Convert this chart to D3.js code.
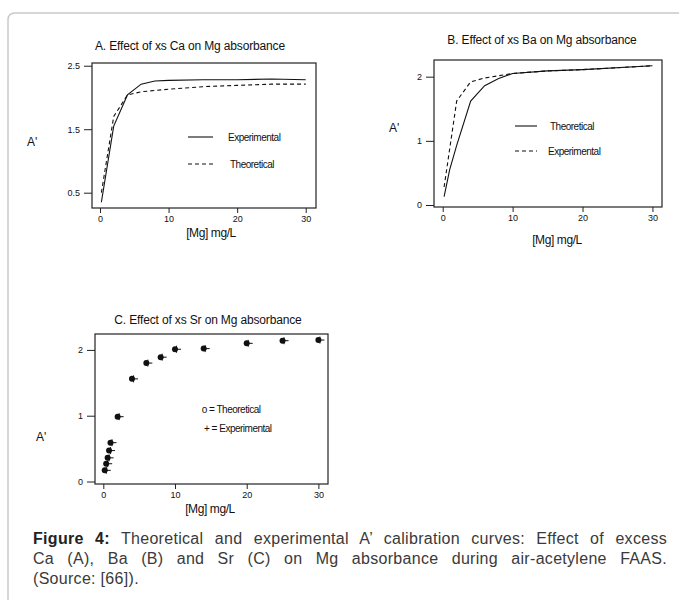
<!DOCTYPE html>
<html>
<head>
<meta charset="utf-8">
<script src="https://cdn.jsdelivr.net/npm/d3@7"></script>
<style>
body { margin: 0; background: #fff; }
#wrap { position: relative; width: 679px; height: 604px; overflow: hidden; }
svg { position: absolute; left: 0; top: 0; }
svg text { font-family: "Liberation Sans", Arial, sans-serif; fill: #111; }
.cap { position: absolute; left: 33px; width: 634px; font-family: "Liberation Sans", Arial, sans-serif;
  font-size: 16px; letter-spacing: 0.3px; line-height: 20px; color: #3a3a3a; white-space: nowrap; }
.cap.j { text-align: justify; text-align-last: justify; white-space: normal; }
.cap b { color: #222; }
</style>
</head>
<body>
<div id="wrap">
<svg width="679" height="604"></svg>
<div class="cap j" style="top:529px"><b>Figure 4:</b> Theoretical and experimental A’ calibration curves: Effect of excess</div>
<div class="cap j" style="top:549px">Ca (A), Ba (B) and Sr (C) on Mg absorbance during air-acetylene FAAS.</div>
<div class="cap" style="top:569px">(Source: [66]).</div>
</div>
<script>
// --- panel A : excess Ca
var caExpX = [0.2, 2, 4, 6, 8, 10, 15, 20, 25, 30];
var caExpY = [0.35, 1.55, 2.04, 2.21, 2.26, 2.27, 2.28, 2.28, 2.29, 2.28];
var caTheoX = [0.2, 2, 4, 6, 10, 15, 20, 25, 30];
var caTheoY = [0.5, 1.7, 2.04, 2.09, 2.13, 2.17, 2.19, 2.21, 2.21];
var caYTicks = [0.5, 1.5, 2.5];

// --- panel B : excess Ba
var baTheoX = [0.2, 1, 2, 4, 6, 8, 10, 15, 20, 30];
var baTheoY = [0.13, 0.55, 0.93, 1.62, 1.86, 1.97, 2.05, 2.09, 2.11, 2.17];
var baExpX = [0.2, 2, 4, 6, 10, 15, 20, 30];
var baExpY = [0.28, 1.62, 1.92, 1.98, 2.05, 2.09, 2.11, 2.17];
var baYTicks = [0, 1, 2];

// --- panel C : excess Sr
var srX = [0.2, 0.4, 0.6, 0.8, 1, 2, 4, 6, 8, 10, 14, 20, 25, 30];
var srTheoY = [0.17, 0.27, 0.36, 0.47, 0.59, 0.985, 1.56, 1.80, 1.89, 2.01, 2.02, 2.10, 2.14, 2.15];
var srExpY = [0.17, 0.27, 0.36, 0.47, 0.59, 0.985, 1.56, 1.80, 1.89, 2.01, 2.02, 2.10, 2.14, 2.15];
var srYTicks = [0, 1, 2];

var xTicks = [0, 10, 20, 30];

var svg = d3.select("svg");

// grey frame round the figure
svg.append("path")
  .attr("d", "M8,600 L8,20 Q8,13 15,13 L690,13")
  .attr("fill", "none")
  .attr("stroke", "#c9c9c9")
  .attr("stroke-width", 1.5);

function zip(xs, ys) { return xs.map(function(v, i) { return [v, ys[i]]; }); }

function panel(cfg) {
  var x = d3.scaleLinear().domain(cfg.xd).range([cfg.box[0], cfg.box[1]]);
  var y = d3.scaleLinear().domain(cfg.yd).range([cfg.box[3], cfg.box[2]]);
  var g = svg.append("g");

  g.append("rect")
    .attr("x", cfg.box[0]).attr("y", cfg.box[2])
    .attr("width", cfg.box[1] - cfg.box[0]).attr("height", cfg.box[3] - cfg.box[2])
    .attr("fill", "none").attr("stroke", "#222").attr("stroke-width", 1.2);

  var ya = g.append("g").attr("transform", "translate(" + cfg.box[0] + ",0)")
    .call(d3.axisLeft(y).tickValues(cfg.yTicks).tickSize(8).tickPadding(4)
      .tickFormat(cfg.yFmt));
  var xa = g.append("g").attr("transform", "translate(0," + cfg.box[3] + ")")
    .call(d3.axisBottom(x).tickValues(xTicks).tickSize(5).tickPadding(3));
  [ya, xa].forEach(function(a) {
    a.select(".domain").remove();
    a.selectAll("line").attr("stroke", "#222");
    a.selectAll("text").style("font-size", "9px").attr("fill", "#222");
  });

  g.append("text").attr("x", cfg.title[0]).attr("y", cfg.title[1])
    .attr("text-anchor", "middle").style("font-size", "12px").style("letter-spacing", "-0.15px")
    .text(cfg.titleText);
  g.append("text").attr("x", cfg.xlab[0]).attr("y", cfg.xlab[1])
    .attr("text-anchor", "middle").style("font-size", "12px").style("letter-spacing", "-0.4px")
    .text("[Mg] mg/L");
  g.append("text").attr("x", cfg.ylab[0]).attr("y", cfg.ylab[1])
    .style("font-size", "12px").text("A'");

  var line = d3.line().x(function(d) { return x(d[0]); }).y(function(d) { return y(d[1]); });

  (cfg.series || []).forEach(function(s) {
    g.append("path").datum(zip(s.x, s.y))
      .attr("d", line).attr("fill", "none").attr("stroke", "#111")
      .attr("stroke-width", 1.1).attr("stroke-dasharray", s.dash ? "4,3" : null);
  });

  (cfg.legend || []).forEach(function(l) {
    g.append("line").attr("x1", l.x1).attr("x2", l.x2).attr("y1", l.y).attr("y2", l.y)
      .attr("stroke", "#111").attr("stroke-width", 1.1)
      .attr("stroke-dasharray", l.dash ? "4,3" : null);
    g.append("text").attr("x", l.tx).attr("y", l.y + 3.5)
      .style("font-size", "10px").style("letter-spacing", "-0.5px").text(l.text);
  });

  return { g: g, x: x, y: y };
}

panel({
  box: [92, 316, 63, 208], xd: [-1.167, 31.5], yd: [0.259, 2.543],
  yTicks: caYTicks, yFmt: d3.format(".1f"),
  title: [190, 50], titleText: "A. Effect of xs Ca on Mg absorbance",
  xlab: [211, 237], ylab: [27, 146],
  series: [{ x: caExpX, y: caExpY }, { x: caTheoX, y: caTheoY, dash: true }],
  legend: [
    { x1: 188, x2: 213, y: 137, tx: 228, text: "Experimental" },
    { x1: 188, x2: 213, y: 164, tx: 230, text: "Theoretical", dash: true }
  ]
});

panel({
  box: [434, 662, 60, 207], xd: [-1.245, 31.37], yd: [-0.031, 2.26],
  yTicks: baYTicks, yFmt: d3.format("d"),
  title: [542, 44], titleText: "B. Effect of xs Ba on Mg absorbance",
  xlab: [557, 244], ylab: [389, 132],
  series: [{ x: baTheoX, y: baTheoY }, { x: baExpX, y: baExpY, dash: true }],
  legend: [
    { x1: 515, x2: 537, y: 126, tx: 550, text: "Theoretical" },
    { x1: 515, x2: 537, y: 151, tx: 548, text: "Experimental", dash: true }
  ]
});

var pc = panel({
  box: [95, 328, 334, 484], xd: [-1.158, 31.34], yd: [-0.038, 2.242],
  yTicks: srYTicks, yFmt: d3.format("d"),
  title: [208, 324], titleText: "C. Effect of xs Sr on Mg absorbance",
  xlab: [210, 513], ylab: [36, 441]
});

// theoretical: filled dots, experimental: plus signs
pc.g.append("g").selectAll("circle").data(zip(srX, srTheoY)).enter().append("circle")
  .attr("cx", function(d) { return pc.x(d[0]); })
  .attr("cy", function(d) { return pc.y(d[1]); })
  .attr("r", 3).attr("fill", "#111");
pc.g.append("g").selectAll("path").data(zip(srX, srExpY)).enter().append("path")
  .attr("transform", function(d) { return "translate(" + (pc.x(d[0]) + 1.5) + "," + pc.y(d[1]) + ")"; })
  .attr("d", "M-3,0H4.5M0,-3.5V3.5")
  .attr("stroke", "#111").attr("stroke-width", 1);

pc.g.append("text").attr("x", 201.7).attr("y", 413)
  .style("font-size", "10px").style("letter-spacing", "-0.5px").text("o = Theoretical");
pc.g.append("text").attr("x", 204).attr("y", 432)
  .style("font-size", "10px").style("letter-spacing", "-0.5px").text("+ = Experimental");
</script>
</body>
</html>
